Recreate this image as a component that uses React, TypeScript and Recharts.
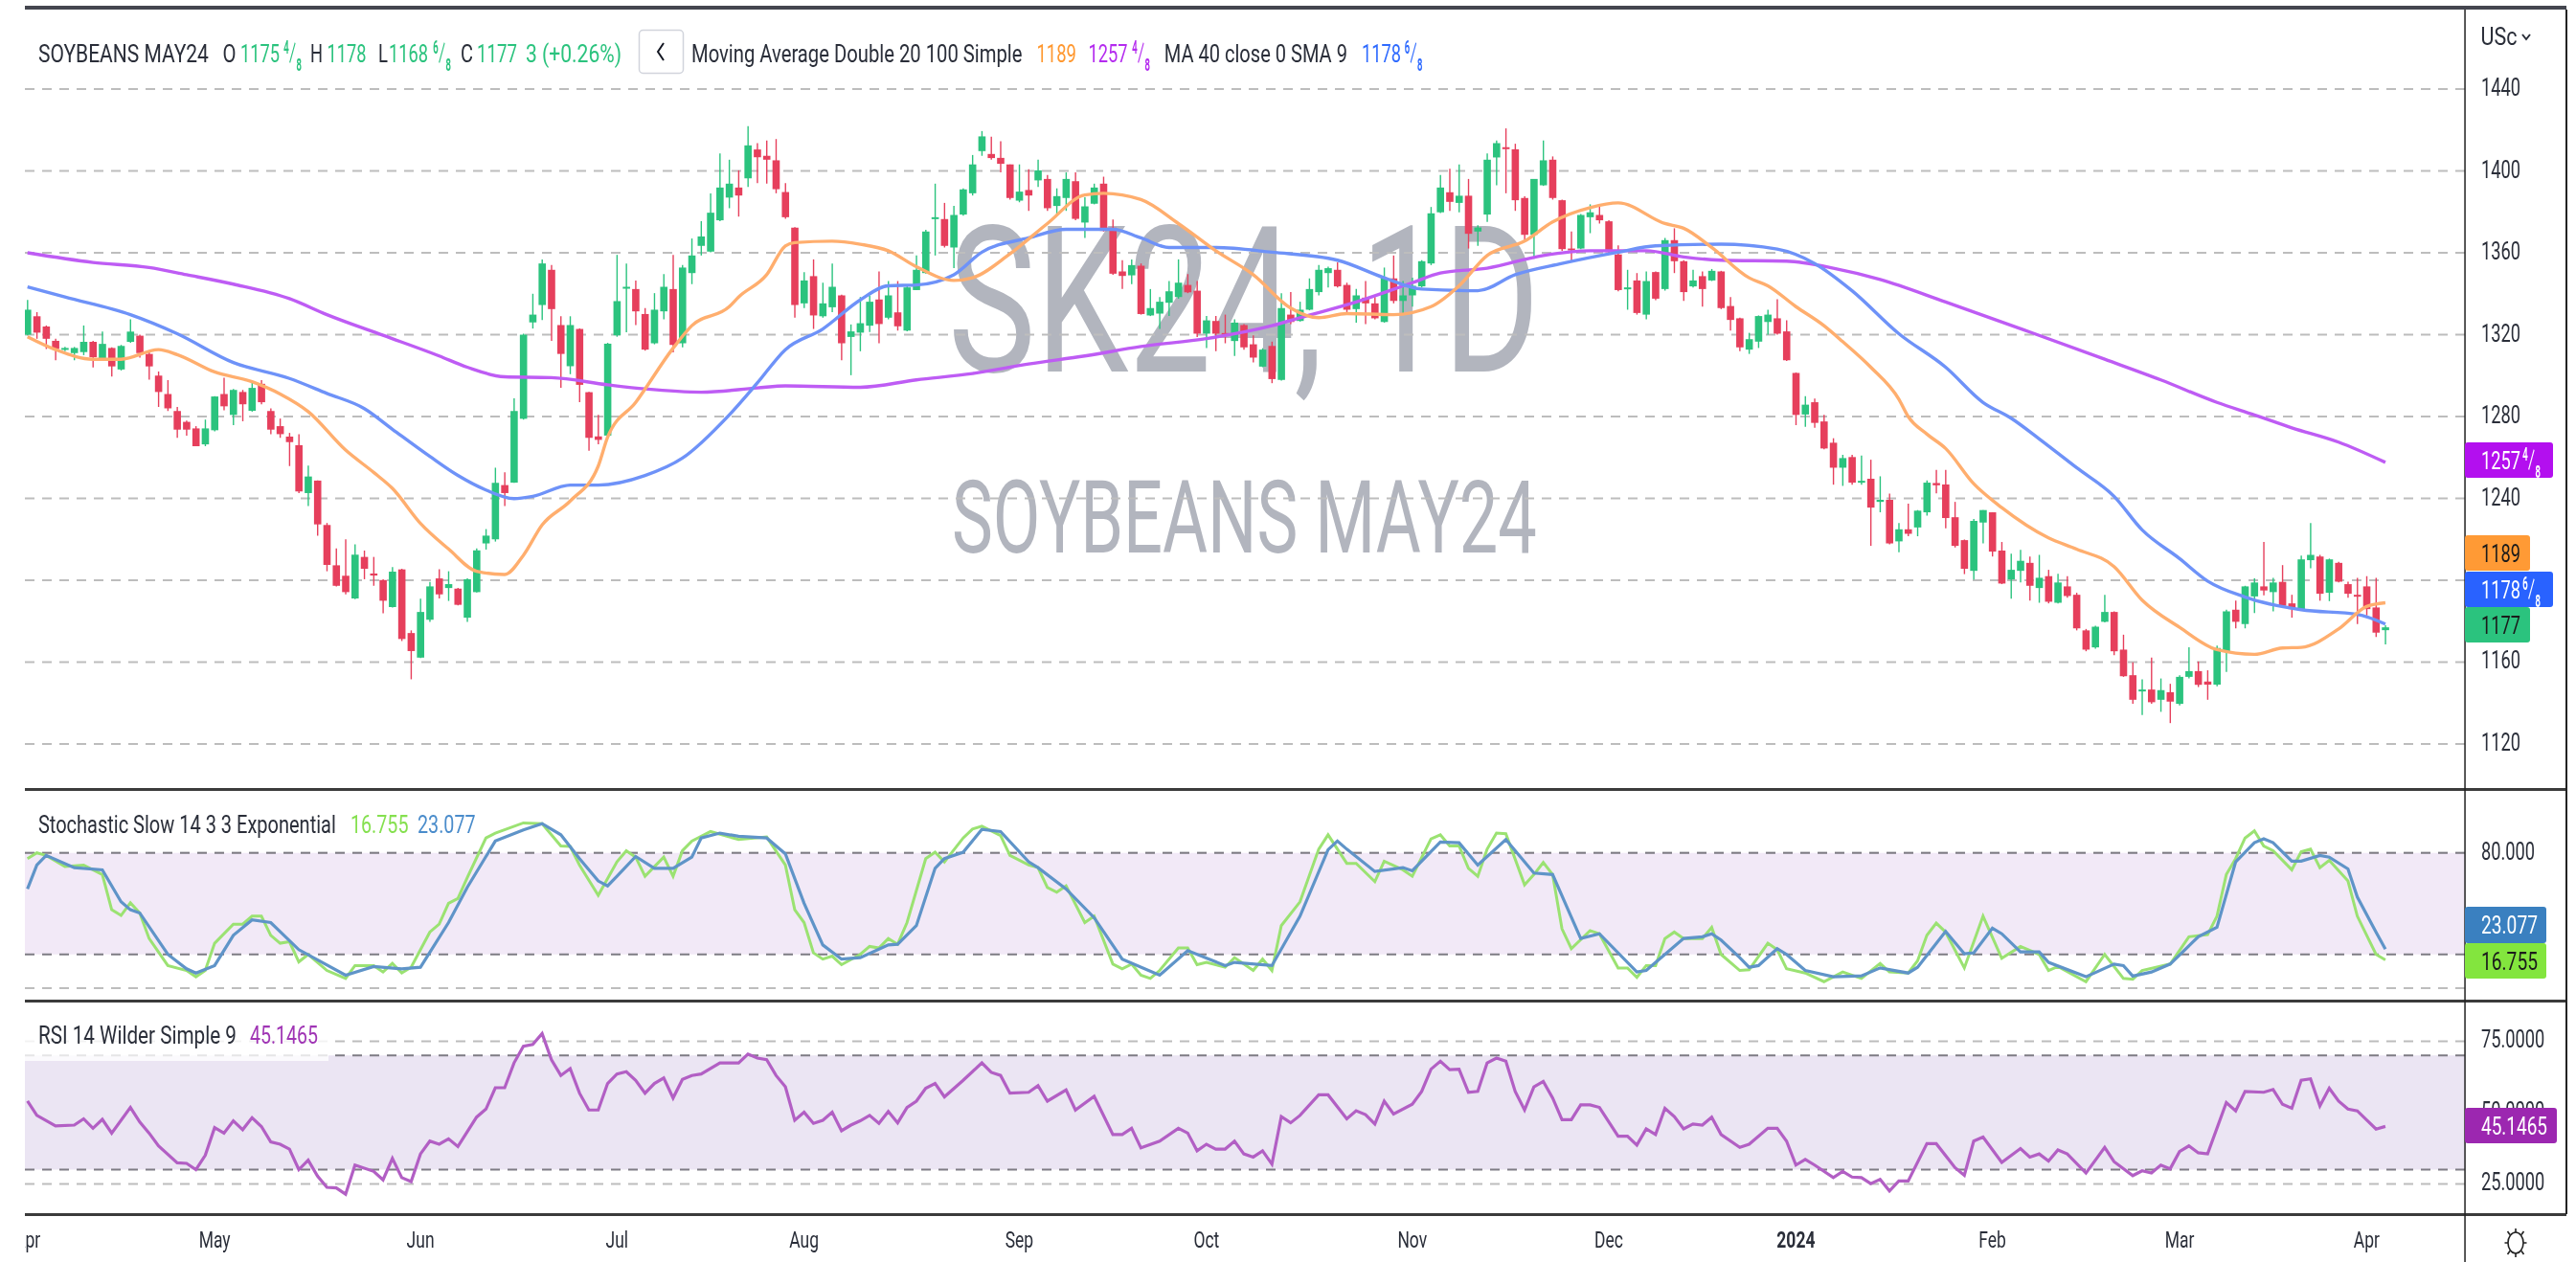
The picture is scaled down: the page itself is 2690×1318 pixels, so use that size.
import React from "react";
import {
  ComposedChart, Bar, Line, XAxis, YAxis, CartesianGrid, ReferenceArea, ReferenceLine,
} from "recharts";

// ---------- price data, one entry per daily bar ----------
const opens = [
  1320,1329,1324,1317,1313,1311,1311.5,1316.5,1308.5,1313.5,
  1303,1316.5,1319.5,1310.6,1300,1291,1282.7,1277.4,1274.2,1266.4,
  1273.3,1291,1280.8,1292,1282.8,1296,1282.7,1275.3,1270.2,1266,
  1242.6,1248.7,1227,1207.3,1202.2,1191.1,1211.4,1203.3,1200.1,1186.9,
  1205.3,1174.2,1162.2,1180.7,1200.9,1196.2,1195.9,1181.7,1194.2,1218,
  1220,1246.5,1247.7,1278.9,1326,1334.5,1351.7,1324.7,1304.6,1322.8,
  1291.9,1270.3,1270.7,1319.7,1343,1342.3,1330.1,1315.8,1331.4,1342.3,
  1315.8,1350.1,1363.4,1360.6,1375.9,1387,1391.9,1396.4,1410.5,1407.4,
  1405.2,1389.7,1372.3,1335.3,1348.6,1329,1333.4,1339.2,1318.9,1321,
  1324.4,1337.2,1328.3,1330.9,1322,1341.8,1350.1,1376.6,1376.5,1362.6,
  1378.7,1389.1,1409.7,1408.3,1406.4,1403.2,1385.5,1390.7,1395.4,1396.1,
  1382.9,1386.8,1395,1374.8,1384,1393.8,1372.3,1350.9,1349,1353.7,
  1329.4,1330.3,1335.6,1338.4,1344.3,1341.5,1320.5,1326.7,1320.8,1316.9,
  1324.7,1315.3,1304.4,1314.5,1297.9,1329.8,1326.7,1332.2,1340.8,1350.1,
  1351.7,1344.3,1332.5,1338.1,1335.3,1326.2,1347.5,1336.5,1339.2,1343.6,
  1354.8,1379.8,1389.6,1384.4,1387.9,1370.4,1378.7,1406.6,1411.6,1410.6,
  1386.8,1368.8,1393,1405.5,1385.7,1362.1,1362.1,1377.4,1378.5,1375.4,
  1359.2,1342.3,1346.5,1329.8,1350.6,1342.3,1366.2,1355.9,1343.6,1348.6,
  1346.5,1350.9,1334,1328,1312.7,1316.6,1326.2,1328,1321.6,1301.3,
  1281,1287,1277.6,1267.2,1255,1260.2,1247.7,1249.6,1238.3,1239.3,
  1219,1224.9,1225.8,1233.2,1247.5,1246.8,1230.8,1219.6,1204.6,1228.2,
  1233.2,1214.5,1200.4,1204.6,1208.5,1196.2,1202,1189,1197,1192.9,
  1175.5,1167.2,1179.7,1184.5,1166.1,1153.6,1145.8,1146.6,1141.6,1145.3,
  1139.6,1152.8,1155.6,1150.5,1149,1165.3,1185.6,1178.6,1192.1,1197,
  1194.2,1199.2,1188.7,1185.6,1209.8,1211.6,1193.9,1208.5,1198.1,1192.9,
  1197,1186.7,1175.6,
];
const highs = [
  1337,1331,1324.5,1318,1314,1314,1324.5,1317,1321.5,1313.8,
  1315,1327.5,1320,1312,1302,1297.8,1284.7,1278,1275.3,1278.5,
  1290,1299,1293.5,1293,1296.5,1297.8,1284,1279,1272,1271.4,
  1256,1248.8,1228,1215.6,1220,1217.6,1214.5,1211.4,1200.5,1206.4,
  1205.6,1175.5,1191,1199.2,1205.4,1204.4,1196.3,1200.9,1215.6,1225,
  1255,1252.7,1288.9,1320.5,1340,1356.8,1354,1329,1329,1323,
  1292,1280.8,1316,1359,1354.8,1346.5,1333,1340.3,1349.6,1359,
  1354,1367,1375.5,1389,1408.6,1405.5,1400.3,1421.9,1413.6,1414.9,
  1415.6,1394.1,1372.5,1350.6,1356.8,1345.4,1354.8,1339.5,1325,1338.4,
  1339.2,1350.9,1346.2,1346.2,1343.9,1358.7,1371.2,1393.8,1384.4,1382.9,
  1391.5,1407.8,1419.5,1416.7,1414.5,1403.2,1403.2,1400.8,1405.5,1398,
  1391.5,1399.3,1399.3,1387.1,1393.8,1397.2,1376.3,1356.4,1356.8,1354.8,
  1342.3,1338.4,1346.2,1356.8,1349.6,1346.2,1329.1,1329.1,1329.8,1327.5,
  1325.2,1319.7,1313.4,1316.6,1340.3,1340.8,1336.1,1347.5,1354,1353.2,
  1355.3,1345.4,1342.3,1346.2,1338.4,1352.8,1358.7,1346.2,1347.8,1356.4,
  1382.4,1398,1401.1,1403.2,1396.1,1373.5,1408.6,1414.9,1420.8,1413.3,
  1387.6,1396.1,1414.9,1407.1,1386,1370.4,1379,1383.7,1382.9,1375.9,
  1363.7,1351.7,1350.1,1350.9,1350.9,1367.3,1372,1356.4,1351.7,1350.9,
  1352.1,1351.2,1338.4,1328.3,1320.9,1329.4,1332.2,1337.3,1327,1301.5,
  1290,1288.8,1280.8,1269.4,1261.3,1261.3,1261,1258.9,1250.8,1242.4,
  1228,1237.4,1234.3,1248.8,1253.9,1253.9,1238.3,1219.9,1230,1234.3,
  1233.2,1218.7,1213,1214.8,1211.6,1212.4,1205.1,1203.2,1202,1193.9,
  1176.2,1177.8,1192.9,1184.8,1173.4,1159.9,1151.6,1162.2,1152,1149.4,
  1153.6,1167.2,1160.3,1156,1168.1,1185.6,1190,1197.3,1200.9,1218.7,
  1201.2,1207.4,1192.9,1212.1,1228,1212.4,1210.6,1209,1199.3,1201.2,
  1202,1201.2,1178,
];
const lows = [
  1319.7,1318,1313,1307.5,1312,1307.5,1310,1304,1308,1299.5,
  1302.5,1316,1308.8,1298,1284.7,1282.7,1269.6,1270.6,1265.5,1265.5,
  1272.7,1283.1,1275.8,1277.7,1282.4,1286,1271.4,1269.6,1255.8,1242.6,
  1236.3,1221.8,1204.4,1197,1193.1,1190.8,1200.5,1197.3,1183.8,1186.7,
  1170.3,1151.6,1162,1179.7,1191.1,1189.9,1187.7,1179.7,1194,1215,
  1218.9,1236.3,1247.6,1278.5,1323,1327.2,1317,1294,1300.7,1287,
  1263.3,1266.4,1270.5,1319,1321.2,1324.7,1312.2,1315.3,1327.5,1311.4,
  1313.8,1344.7,1358.7,1360.3,1375.5,1381.8,1377.7,1392.2,1394.1,1393.8,
  1389.1,1376.6,1328.3,1333,1322.8,1328.3,1331,1307.5,1300.2,1311.9,
  1321.3,1315.8,1327.5,1322,1321.7,1341.8,1349.8,1358.7,1362.6,1352.5,
  1378.2,1388,1407.4,1405.5,1399.3,1386,1384.7,1380.5,1392.2,1380.5,
  1378.2,1380.5,1375.9,1367.3,1383.7,1370.4,1349.3,1342.3,1344.7,1329.8,
  1329.1,1322.8,1329.1,1337.6,1340.3,1318.9,1313.5,1311.9,1315.8,1309.6,
  1312.7,1306.4,1304.1,1296.3,1297.5,1325.2,1326.4,1331.9,1339.2,1343.1,
  1343.1,1330.9,1325.9,1325.2,1327.5,1325.9,1335.3,1330.6,1333.7,1343.1,
  1354,1379.4,1380.5,1379.8,1362.1,1363.4,1375.1,1393,1389.1,1380.5,
  1366.2,1357.1,1392.7,1386,1361,1355.9,1361.8,1369.6,1374.3,1360,
  1341.2,1332.2,1329.8,1327.5,1336.9,1341.5,1350.1,1336.5,1343.1,1333.7,
  1346.2,1332.5,1322,1311.9,1310.6,1313.5,1320,1320,1307.2,1275.8,
  1275,1274.5,1264,1246.7,1246.1,1246.7,1246.7,1216.8,1233.2,1217.6,
  1213.7,1221.5,1221.5,1231.6,1242.5,1225.4,1216,1203,1200.4,1218,
  1211.6,1198.1,1191,1198.9,1190,1189,1188.7,1188.7,1191.5,1175.5,
  1165.3,1166.6,1179.4,1163.4,1152.8,1139.6,1134.1,1139.6,1135.7,1130.2,
  1138.8,1152,1147.8,1141.6,1148.2,1155.2,1176.5,1176.5,1184,1192.6,
  1184.8,1187.2,1181.7,1185.3,1205.9,1190,1189.8,1198.9,1191.5,1178.6,
  1182.8,1172.3,1168.6,
];
const closes = [
  1332.2,1321,1318,1313,1313.5,1313.5,1316.5,1309,1315.5,1304.5,
  1314.5,1321.5,1311,1304.5,1292,1284,1273.6,1273.6,1265.5,1274.2,
  1289.8,1285,1293,1286,1294,1287,1273.6,1271.4,1267.5,1243.4,
  1250.7,1227.3,1207.5,1197.3,1194.2,1212.5,1205.6,1202.3,1190,1204.2,
  1171.3,1165.4,1184.5,1197,1193.1,1198.1,1188,1200.5,1214.6,1221.8,
  1247.6,1242.6,1282.7,1320,1329.8,1354.8,1332.5,1310.6,1324.7,1295.5,
  1269.6,1268.6,1315.6,1336.4,1343.4,1331.4,1312.7,1332.2,1343.4,1315,
  1352.8,1358.7,1368,1379.6,1391.9,1393.8,1388,1412.5,1406.7,1405.5,
  1391.1,1377.4,1334.5,1346.5,1329.4,1335.3,1343.4,1315.8,1321.6,1325.6,
  1336.1,1325.2,1339.2,1324.1,1343.1,1351.7,1370.4,1377.4,1363.4,1378.5,
  1391,1403.2,1416.9,1406.3,1403.5,1386.8,1389.9,1388,1400.3,1381.8,
  1387.7,1396.1,1376.6,1382.7,1391.9,1370.7,1349.8,1348.7,1354,1330.1,
  1333,1336.1,1341.2,1345.4,1340.7,1320.5,1327,1320.5,1320.2,1325.9,
  1313.8,1308.8,1312.7,1298.3,1333,1326.2,1332.2,1342.3,1351.7,1352.5,
  1343.6,1332.2,1339.2,1335.3,1328,1347.8,1336.5,1339.2,1343.9,1355.9,
  1379.3,1391.9,1384.9,1387.9,1369.3,1372.4,1405.5,1413.6,1410.8,1385.7,
  1368.8,1396.1,1405.2,1386.8,1361.8,1361.5,1378.5,1379.8,1375.9,1360.3,
  1341.8,1343.1,1330.6,1346.2,1337.6,1366.2,1355.9,1340.8,1346.5,1342.3,
  1351.2,1333,1327.2,1313.8,1317.8,1329.1,1329.8,1320.5,1307.5,1280.8,
  1285.8,1276.9,1264.4,1255,1259.7,1247.7,1248.6,1235.5,1239.3,1218,
  1224.9,1222.7,1234,1247.7,1246.4,1230.4,1216.8,1205.6,1229,1234.3,
  1214,1198.4,1205.1,1209.5,1197.3,1201.2,1189.5,1198.9,1192.3,1176.5,
  1166.1,1177.3,1184.5,1165.3,1153.1,1141.6,1146.6,1140.4,1146.3,1140.7,
  1152.8,1155.6,1148.9,1149,1166.9,1184.8,1179.7,1197,1198.9,1195,
  1198.9,1187.5,1185.9,1210.2,1212.4,1193.4,1210.2,1199.3,1193.4,1192.1,
  1185.9,1174.4,1177,
];

// ---------- moving averages, read at their turning points ----------
const ma100Bars = [0,7,13,17,22,28,32,38,44,47,51,56,62,66,72,78,81,89,95,101,107,113,119,126,133,136,142,148,151,156,162,167,173,177,181,188,193,198,205,214,222,228,234,238,242,247,252];
const ma100Vals = [1360,1355.3,1352.8,1349.3,1344.7,1337.6,1329.8,1319.7,1309.6,1304.1,1299.4,1299,1295.5,1293.5,1291.9,1294,1295,1294.3,1297.9,1301,1305.7,1309.6,1314.2,1318.1,1324.4,1328.3,1336,1345.4,1350.1,1352.5,1358.7,1361,1361,1358,1356.4,1355.9,1352.5,1347,1336,1321.3,1308,1297.9,1286.9,1280.8,1274.5,1267.5,1257.6];

const ma40Bars = [0,4,11,16,22,28,32,36,39,43,46,49,52,54,58,61,66,70,75,78,81,85,89,92,95,99,102,107,111,116,119,122,127,133,140,145,149,155,159,164,170,174,181,187,191,195,200,205,209,212,215,219,223,226,230,233,237,243,249,252];
const ma40Vals = [1343.4,1338.4,1329.8,1320.5,1306.4,1298.6,1291.3,1283.9,1273.8,1260.5,1251.2,1244.1,1239.9,1241,1246.5,1246.5,1251.2,1259.7,1280.8,1296.4,1312.7,1322.8,1337,1343.9,1344.3,1349.3,1360.3,1367.3,1371.5,1371.5,1367.3,1362.6,1362.6,1360.3,1356.4,1347.8,1342.3,1341.5,1349.3,1354.8,1360.3,1363.4,1364.2,1361.8,1354.8,1341.5,1320.5,1304.1,1286.9,1279.2,1269.1,1255,1241,1224.6,1210.6,1199.6,1191.8,1185.6,1183.3,1178.6];

const ma20Bars = [0,3,7,10,14,16,20,24,27,30,34,37,39,42,45,48,51,53,55,58,61,62,65,69,71,75,76,79,81,82,86,89,92,95,99,101,105,109,113,115,119,123,127,131,135,138,141,146,150,153,156,160,163,167,170,175,177,180,184,186,189,192,194,197,200,201,203,205,208,211,216,219,223,226,230,234,238,241,243,247,250,252];
const ma20Vals = [1319,1312.7,1308,1308,1312.7,1310.3,1301.8,1297,1291,1282.4,1263.6,1252.7,1244.9,1227.8,1215.3,1204.4,1202.8,1212.2,1227,1238.7,1255.8,1269.9,1286.9,1313.4,1324.4,1333.7,1338.4,1349.3,1363.4,1365,1365.7,1364.2,1361,1353.2,1346.5,1347.8,1359.5,1374.3,1388.3,1389.1,1386,1374.3,1361,1349.3,1333,1328.3,1330.3,1329.8,1333.7,1343.9,1358.7,1365.7,1375.1,1382.1,1384.4,1374.3,1372,1362.6,1347.8,1343.9,1333.7,1324.4,1316.6,1304.1,1288.5,1280,1271.4,1264.4,1247.2,1235.5,1220.7,1215.2,1206.7,1190.3,1177,1166.1,1163.8,1166.9,1167.2,1176.2,1187.2,1189];

// ---------- stochastic ----------
const stochKBars = [0,1,2,4,6,8,9,10,11,12,13,15,17,18,19,20,22,23,24,25,26,27,28,29,30,32,34,35,37,38,39,40,41,43,44,45,46,47,49,50,53,55,57,58,59,61,63,64,65,66,68,69,70,71,73,76,79,81,82,83,84,85,86,87,89,90,91,92,93,94,96,97,98,100,101,102,104,105,107,108,109,110,111,113,114,116,117,118,119,120,121,123,124,125,126,128,129,131,132,133,134,136,138,139,141,142,144,145,147,148,150,151,152,153,154,155,156,157,158,160,161,162,163,164,165,167,168,170,171,172,173,174,175,176,177,179,180,181,183,184,186,187,188,190,192,194,196,198,199,201,202,203,204,205,207,209,211,213,215,216,217,220,222,224,225,226,229,231,233,234,235,236,237,238,239,240,242,243,244,245,246,248,249,251,252];
const stochKVals = [76.6,80,78.5,71.9,72.8,67.2,46.4,43,50.5,44.5,29.4,13.4,10.5,6.8,10.5,26.6,37.9,37.9,42.6,42.6,31.3,26.6,27.5,15.6,20,10.5,5.8,13.4,13.4,9.6,14.7,9,12.4,33.2,37.9,50.2,53,65.3,88.8,91.7,97.7,97.3,84.1,83.8,72.8,54.9,74.7,81.3,77.5,66.2,77.5,66.2,81.3,87,92.6,87.9,89.4,72.8,46.4,38.8,20.9,17.2,19,13.9,20,24.7,23.8,29.4,26,38.8,76.6,80.4,74.7,88.8,94.1,95.8,90.2,78.5,72.8,71.3,59.6,56.8,60.5,38.8,42.6,14.3,11.5,14.3,7.7,5.8,10.5,23.8,23.8,13.9,15.3,12.4,18.1,10.5,17.2,10.5,37,51.1,82.2,90.7,73.8,73.8,63,75.1,70,66.2,88.3,90.7,84.1,84.1,70.9,66.2,82.2,91.7,91.3,61.1,67.2,74.3,67.2,35.1,23.4,34.1,32.2,12,12,6.4,13.4,13.4,29.4,33.2,29.4,29.4,36,20,10.5,10.9,26.6,22.8,11.5,9,3.9,9.6,5.8,14.7,9.6,9,16.2,31.3,38.5,33.2,12,42.6,17.7,24.7,20,10.5,12.8,3.9,20,5.8,5.3,10.5,14.3,30.4,31.7,42.6,67.2,76.6,88.8,93,84.1,81.3,70,80.7,82.2,71.3,75.6,63.4,42.6,20,16.755];

const stochDBars = [0,1,2,5,8,10,11,12,15,17,18,20,22,24,26,29,34,37,40,42,45,47,50,53,55,57,59,61,62,63,65,67,69,71,72,74,76,79,81,83,85,87,89,92,93,95,97,98,100,102,104,107,108,111,114,117,121,124,128,129,133,136,139,140,141,144,147,148,151,153,155,158,161,163,166,168,172,173,177,179,180,181,183,184,185,187,188,190,193,196,198,201,202,205,207,208,210,211,213,215,216,220,223,224,225,227,229,232,234,236,238,239,240,242,243,245,246,248,249,251,252];
const stochDVals = [58.7,72.8,78.5,71.3,70,51.1,46.4,44.5,20,11.5,9,13.4,31.3,40.4,38.8,22.8,7.7,12.8,11.5,12.4,38.8,59.6,87,93.6,97.3,90.7,76.6,63.4,60.5,66.2,77.9,70.9,70.9,77.5,88.8,91.7,89.8,88.8,79.4,50.2,25.6,17.2,18.1,25.6,26,37,70.9,76.6,80.4,93.9,92.6,74.7,71.3,58.7,41.7,17.2,7.7,22.2,13.4,15.3,13.4,42.6,81.9,87,82.2,69,71.3,69.4,86.4,86,72.8,87.9,68.1,67.2,29.4,32.2,9.6,10.5,29.4,30.4,32.2,28.5,18.1,12.4,13.4,23.4,20,10.5,6.8,7.3,12,9,12.4,33.6,20.4,20.9,35.5,32.2,21.5,21.5,15.3,6.8,14.3,13.4,7.2,9.6,14.3,30.4,36,74.7,86,88.3,86,75.1,75.1,78.5,77.5,70.5,53.9,33.2,23.077];

// ---------- RSI ----------
const rsiBars = [0,1,3,5,6,7,8,9,11,12,13,14,16,17,18,19,20,21,22,23,24,25,26,27,28,29,30,31,32,33,34,35,37,38,39,40,41,42,43,44,45,46,48,49,50,51,52,53,54,55,56,57,58,59,60,61,62,63,64,65,66,67,68,69,70,71,72,74,76,77,78,79,80,81,82,83,84,85,86,87,88,89,90,91,92,93,94,95,96,97,98,100,102,103,104,105,107,108,109,111,112,114,116,117,118,119,121,123,124,125,126,127,128,129,130,131,132,133,134,135,136,138,139,141,142,143,144,145,146,148,149,150,151,152,153,154,155,156,157,158,159,160,161,162,163,164,165,166,167,168,170,171,172,173,174,175,176,177,178,179,180,181,183,184,186,187,188,189,190,191,193,194,195,196,197,198,199,200,201,203,204,206,207,208,209,211,213,214,215,216,217,218,220,222,223,225,226,227,228,229,230,231,232,233,235,236,237,239,240,241,242,243,244,245,246,247,248,249,251,252];
const rsiVals = [54,49,45.3,45.6,47.8,44.5,47.6,42.8,51.8,46.7,42.8,38.3,32.4,32.2,30,35,44.7,42.8,47.1,44,48.2,45.1,39.7,38.9,37.2,30,33.3,27.7,23.8,23.6,21.4,31.6,29.4,26.4,33.9,27.2,25.8,35.5,40,38.9,40.8,38.1,48.4,51.2,58.7,58.7,67.4,73.2,73.9,77.7,68.5,63,65.4,56.8,50.9,50.9,60.2,63.5,64.3,61.3,56.8,60.2,62.1,55.1,61.6,63,63.5,67.4,67.4,70.5,69.1,68.5,63,59,47.3,50.1,46.2,47.3,50.1,43.6,45.6,47.1,49,46.2,50.4,46.4,51.8,54,58.5,60.2,55.5,61.3,67.4,64.1,63,56.8,57.1,59.4,54,57.9,50.9,55.7,42.3,42.3,44.5,37.6,40,44.5,42.8,36.6,38.9,37.2,37.2,40,35.5,34.4,36.6,31.9,48.6,46.4,49,56.2,56.2,47.8,50.6,49.3,46,54,49.5,52.9,57.4,65.2,68,65,65.2,57.1,57.4,67.4,69.1,68,57.4,50.9,59,60.9,55.1,47.5,47.5,52.7,52.7,51.8,41.7,41.7,38.6,44.3,42.3,51.5,48.6,44.3,46,45.6,48.4,42.3,37.8,38.9,44.5,44.5,40,31.6,33.6,31.6,27.2,29.4,27.4,27.2,25.1,26.6,22.5,26,26,39.1,39.1,30.7,28,40,41.4,32.5,37.4,34.4,35.5,33,36.9,35.5,28.8,37.8,32.8,27.9,29.6,28.8,31.6,30.3,36.3,38.3,35.9,35.5,53.5,50.6,57.4,57.1,58.1,52.9,51.5,61.3,61.8,52.3,58.5,54,51.2,50.6,44.2,45.1465];

// ---------- axis labels and readouts ----------
const priceTicks = [1120,1160,1200,1240,1280,1320,1360,1400,1440];
const stochTicks = [0,40,80];
const stochBands = [20,80];
const rsiTicks = [25,50,75];
const rsiBands = [30,70];
const monthBars = [0,20,42,63,83,106,126,148,169,189,210,230,250];
const monthLabels = ["Apr","May","Jun","Jul","Aug","Sep","Oct","Nov","Dec","2024","Feb","Mar","Apr"];

const GREEN = "#2BC37E", RED = "#E63F5C";
const FONT = "Roboto, sans-serif";
const INK = "#2a2e39";
const FOUR8 = "\u2074\u2044\u2088";
const SIX8 = "\u2076\u2044\u2088";

const barCount = opens.length;
const table: any[] = Array.from({ length: barCount }, (_, i) => ({
  i, open: opens[i], high: highs[i], low: lows[i], close: closes[i],
  range: [lows[i], highs[i]],
}));
const put = (key: string, bars: number[], vals: number[]) => bars.forEach((b, k) => { table[b][key] = vals[k]; });
put("ma100", ma100Bars, ma100Vals);
put("ma40", ma40Bars, ma40Vals);
put("ma20", ma20Bars, ma20Vals);
put("k", stochKBars, stochKVals);
put("d", stochDBars, stochDVals);
put("rsi", rsiBars, rsiVals);

const X_DOMAIN: [number, number] = [-0.276, 260.5];

const Candle = (p: any) => {
  const { x, y, width, height, payload } = p;
  const { open, close, high, low } = payload;
  const cx = x + width / 2;
  const perUnit = height / (high - low || 1);
  const top = y + (high - Math.max(open, close)) * perUnit;
  const bodyH = Math.max(Math.abs(open - close) * perUnit, 2);
  const color = close >= open ? GREEN : RED;
  return (
    <g>
      <line x1={cx} x2={cx} y1={y} y2={y + height} stroke={color} strokeWidth={1.4} />
      <rect x={cx - 3.8} y={top} width={7.6} height={bodyH} fill={color} />
    </g>
  );
};

const ruler = document.createElement("canvas").getContext("2d");
const measure = (text: string, size: number) => {
  if (!ruler) return text.length * size * 0.5;
  ruler.font = `400 ${size}px Roboto`;
  return ruler.measureText(text).width || text.length * size * 0.5;
};

const Squeezed = ({ x, y, sx = 0.73, size = 25, fill = INK, anchor = "start", weight, children }: any) => (
  <text transform={`translate(${x},${y}) scale(${sx},1)`} fontFamily={FONT} fontSize={size} fill={fill}
    textAnchor={anchor} fontWeight={weight}>{children}</text>
);

// text fitted to the width it has in the reference; a price with an eighths
// fraction is set as digits plus a taller fraction that ends at the same width
const FRACTION_W = 19;
const Txt = ({ x, y, w, size = 25, fill = INK, children }: any) => {
  const text = String(children);
  const k = text.indexOf("\u2044");
  if (k < 0) return <Squeezed x={x} y={y} sx={w / measure(text, size)} size={size} fill={fill}>{text}</Squeezed>;
  const digits = text.slice(0, k - 2);
  const frac = text.slice(k - 1);
  const fracSize = size * 1.45;
  return (
    <g>
      <Squeezed x={x} y={y} sx={0.73} size={size} fill={fill}>{digits}</Squeezed>
      <Squeezed x={x + w - FRACTION_W} y={y + 3} sx={FRACTION_W / measure(frac, fracSize)} size={fracSize} fill={fill}>{frac}</Squeezed>
    </g>
  );
};

const yTick = (digits: number, hidden: number[] = []) => (p: any) =>
  hidden.includes(p.payload.value) ? <g /> : (
    <Squeezed x={2591} y={p.y + 7}>{Number(p.payload.value).toFixed(digits)}</Squeezed>
  );

const monthTick = (p: any) => {
  const k = monthBars.indexOf(p.payload.value);
  const label = monthLabels[k];
  return <Squeezed x={p.x} y={257} size={23} anchor="middle" sx={0.76} weight={label === "2024" ? 700 : 400}>{label}</Squeezed>;
};

const grid = { stroke: "#BDBDBD", strokeDasharray: "10 8", strokeWidth: 2 };
const strongDash = { stroke: "#7E7C84", strokeDasharray: "10 8", strokeWidth: 2 };
const abs = (top: number): React.CSSProperties => ({ position: "absolute", left: 0, top });

const Tag = ({ y0, y1, x1, w, fill, color, children }: any) => (
  <g>
    <rect x={2574} y={y0} width={x1 - 2574} height={y1 - y0} rx={3} fill={fill} />
    <Txt x={2591} y={(y0 + y1) / 2 + 9} w={w} fill={color}>{children}</Txt>
  </g>
);

export default function App() {
  return (
    <div style={{ position: "absolute", left: 0, top: 0, width: 2690, height: 1318, background: "#fff", overflow: "hidden", filter: "blur(0.6px)" }}>
      {/* watermark */}
      <svg width={2690} height={1318} style={abs(0)}>
        <Txt x={990} y={388} w={618} size={214} fill="#B2B5BE">SK24, 1D</Txt>
        <Txt x={994} y={577} w={611} size={105} fill="#B2B5BE">SOYBEANS MAY24</Txt>
      </svg>

      {/* price panel */}
      <div style={abs(8)}>
        <ComposedChart width={2680} height={816} data={table} margin={{ top: 0, right: 0, bottom: 0, left: 26 }}>
          <XAxis dataKey="i" type="number" domain={X_DOMAIN} hide allowDataOverflow />
          <YAxis orientation="right" width={106} domain={[1098, 1479.8]} ticks={priceTicks} allowDataOverflow
            axisLine={false} tickLine={false} interval={0} tick={yTick(0, [1200])} />
          <CartesianGrid vertical={false} {...grid} />
          <Line dataKey="ma100" stroke="#BE5CF4" strokeWidth={3.4} dot={false} connectNulls type="monotone" isAnimationActive={false} />
          <Line dataKey="ma40" stroke="#6E92F8" strokeWidth={3.4} dot={false} connectNulls type="monotone" isAnimationActive={false} />
          <Line dataKey="ma20" stroke="#FFAE6E" strokeWidth={3.4} dot={false} connectNulls type="monotone" isAnimationActive={false} />
          <Bar dataKey="range" barSize={8} shape={Candle} isAnimationActive={false} />
        </ComposedChart>
      </div>

      {/* stochastic panel */}
      <div style={abs(825)}>
        <ComposedChart width={2680} height={220} data={table} margin={{ top: 0, right: 0, bottom: 0, left: 26 }}>
          <XAxis dataKey="i" type="number" domain={X_DOMAIN} hide allowDataOverflow />
          <YAxis orientation="right" width={106} domain={[-7.3, 117.2]} ticks={stochTicks} allowDataOverflow
            axisLine={false} tickLine={false} interval={0} tick={yTick(3, [0, 40])} />
          <ReferenceArea y1={stochBands[0]} y2={stochBands[1]} fill="#F2E9F7" fillOpacity={1} stroke="none" />
          <CartesianGrid vertical={false} {...grid} />
          {stochBands.map((v) => <ReferenceLine key={v} y={v} {...strongDash} />)}
          <Line dataKey="k" stroke="#9BE272" strokeWidth={3} dot={false} connectNulls isAnimationActive={false} />
          <Line dataKey="d" stroke="#5F94C8" strokeWidth={3.2} dot={false} connectNulls isAnimationActive={false} />
        </ComposedChart>
      </div>

      {/* RSI panel and time axis */}
      <div style={abs(1046)}>
        <ComposedChart width={2680} height={272} data={table} margin={{ top: 0, right: 0, bottom: 0, left: 26 }}>
          <XAxis dataKey="i" type="number" domain={X_DOMAIN} ticks={monthBars} interval={0} height={50} allowDataOverflow
            axisLine={false} tickLine={false} tick={monthTick} />
          <YAxis orientation="right" width={106} domain={[14.4, 88.9]} ticks={rsiTicks} allowDataOverflow
            axisLine={false} tickLine={false} interval={0} tick={yTick(4)} />
          <ReferenceArea y1={rsiBands[0]} y2={rsiBands[1]} fill="#EBE5F3" fillOpacity={1} stroke="none" />
          <CartesianGrid vertical={false} {...grid} />
          {rsiBands.map((v) => <ReferenceLine key={v} y={v} {...strongDash} />)}
          <Line dataKey="rsi" stroke="#B25FC4" strokeWidth={3.2} dot={false} connectNulls isAnimationActive={false} />
        </ComposedChart>
      </div>

      {/* frame, legends, price tags */}
      <svg width={2690} height={1318} style={abs(0)}>
        <rect x={0} y={0} width={26} height={1318} fill="#fff" />
        <rect x={26} y={6} width={2654} height={4} fill="#44464F" />
        <rect x={26} y={823} width={2654} height={3} fill="#3b3b3b" />
        <rect x={26} y={1044} width={2654} height={3} fill="#3b3b3b" />
        <rect x={26} y={1267} width={2654} height={3} fill="#3b3b3b" />
        <rect x={2573.3} y={10} width={1.5} height={1308} fill="#222" />
        <rect x={2679} y={10} width={2} height={1258} fill="#222" />

        <Txt x={40} y={65} w={178}>SOYBEANS MAY24</Txt>
        <Txt x={232.5} y={65} w={14}>O</Txt>
        <Txt x={251} y={65} w={64} fill={GREEN}>{`1175 ${FOUR8}`}</Txt>
        <Txt x={324} y={65} w={13}>H</Txt>
        <Txt x={341.6} y={65} w={41} fill={GREEN}>1178</Txt>
        <Txt x={395} y={65} w={10}>L</Txt>
        <Txt x={406} y={65} w={65} fill={GREEN}>{`1168 ${SIX8}`}</Txt>
        <Txt x={481} y={65} w={13}>C</Txt>
        <Txt x={498} y={65} w={42} fill={GREEN}>1177</Txt>
        <Txt x={549} y={65} w={100} fill={GREEN}>3 (+0.26%)</Txt>
        <rect x={667.5} y={31.5} width={46} height={45} rx={4} fill="#fff" stroke="#D1D4DC" strokeWidth={1.5} />
        <path d="M693 45 L687 54 L693 63" fill="none" stroke="#131722" strokeWidth={2} />
        <Txt x={722} y={65} w={345.6}>Moving Average Double 20 100 Simple</Txt>
        <Txt x={1082.5} y={65} w={41.5} fill="#FF9830">1189</Txt>
        <Txt x={1136.5} y={65} w={64.5} fill="#B42BEF">{`1257 ${FOUR8}`}</Txt>
        <Txt x={1215.7} y={65} w={191.3}>MA 40 close 0 SMA 9</Txt>
        <Txt x={1422} y={65} w={63.5} fill="#2F6BFF">{`1178 ${SIX8}`}</Txt>

        <Txt x={2590.6} y={47} w={38}>USc</Txt>
        <path d="M2634 36 L2638 41 L2642 36" fill="none" stroke={INK} strokeWidth={2} />

        <Txt x={40} y={870} w={311}>Stochastic Slow 14 3 3 Exponential</Txt>
        <Txt x={366} y={870} w={60.5} fill="#85E04F">16.755</Txt>
        <Txt x={436} y={870} w={60.6} fill="#4A8CCB">23.077</Txt>

        <rect x={26} y={1064} width={317} height={44} fill="#fff" fillOpacity={0.8} />
        <Txt x={40} y={1090} w={207}>RSI 14 Wilder Simple 9</Txt>
        <Txt x={261} y={1090} w={71} fill="#A035B5">45.1465</Txt>

        <Tag y0={462} y1={499} x1={2666} w={62} fill="#B30FEF" color="#fff">{`1257 ${FOUR8}`}</Tag>
        <Tag y0={559} y1={596} x1={2642} w={41} fill="#FF9A35" color="#1b1b1b">1189</Tag>
        <Tag y0={597} y1={634} x1={2666} w={62} fill="#2962FF" color="#fff">{`1178 ${SIX8}`}</Tag>
        <Tag y0={634} y1={671} x1={2642} w={41} fill="#2BC37E" color="#1b1b1b">1177</Tag>
        <Tag y0={947} y1={985} x1={2659} w={59} fill="#3A80C0" color="#fff">23.077</Tag>
        <Tag y0={985} y1={1022} x1={2659} w={59} fill="#83E53E" color="#1b1b1b">16.755</Tag>
        <Tag y0={1157} y1={1194} x1={2670} w={69} fill="#9C27B0" color="#fff">45.1465</Tag>

        <g fill="none" stroke="#222" strokeWidth={1.6}>
          <ellipse cx={2627} cy={1298} rx={8} ry={11} />
          <path d="M2627 1283v4M2627 1309v4M2615.5 1298h3.5M2635 1298h3.5M2618.5 1286l2.5 3.5M2635.5 1286l-2.5 3.5M2618.5 1310l2.5-3.5M2635.5 1310l-2.5-3.5" />
        </g>
      </svg>
    </div>
  );
}
